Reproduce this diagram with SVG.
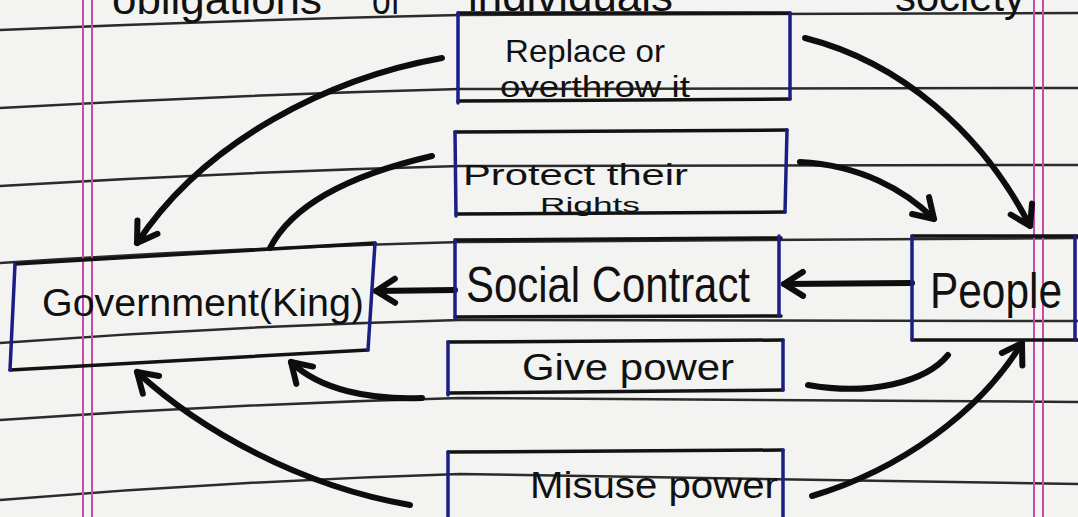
<svg xmlns="http://www.w3.org/2000/svg" width="1078" height="517" viewBox="0 0 1078 517">
  <style>
    .paper { fill: #f3f3f2; }
    .rule { fill: none; stroke: #2b2b2b; stroke-width: 2.5; }
    .margin { stroke: #c94aa8; stroke-width: 2; }
    .edge { fill: none; stroke: #121212; stroke-width: 3.5; stroke-linecap: round; }
    .side { fill: none; stroke: #1a1f86; stroke-width: 3.5; stroke-linecap: round; }
    .ink { font-family: "Liberation Sans", "DejaVu Sans", sans-serif; fill: #111; }
    .conn { fill: none; stroke: #0d0d0d; stroke-width: 6; stroke-linecap: round; }
  </style>
  <defs>
    <marker id="head" viewBox="-24 -16 28 32" markerUnits="userSpaceOnUse" markerWidth="28" markerHeight="32" refX="0" refY="0" orient="auto">
      <path d="M-19,-12 L0,0 L-19,12" fill="none" stroke="#0d0d0d" stroke-width="6" stroke-linecap="round" stroke-linejoin="round"/>
    </marker>
  </defs>

  <!-- notebook page -->
  <rect class="paper" x="0" y="0" width="1078" height="517"/>
  <g id="ruling">
    <path class="rule" d="M0,30 Q230,20 460,15 L1078,13"/>
    <path class="rule" d="M0,108 Q230,95 460,89 L1078,88"/>
    <path class="rule" d="M0,186 Q230,172 460,166 L1078,165"/>
    <path class="rule" d="M0,263 Q230,248 460,242 L1078,238"/>
    <path class="rule" d="M0,343 Q230,326 460,320 L1078,321"/>
    <path class="rule" d="M0,420 Q230,404 460,398 L1078,402"/>
    <path class="rule" d="M0,500 Q230,481 460,474 L1078,484"/>
    <line class="margin" x1="83" y1="0" x2="83" y2="517"/>
    <line class="margin" x1="92" y1="0" x2="92" y2="517"/>
    <line class="margin" x1="1034" y1="0" x2="1034" y2="517"/>
    <line class="margin" x1="1043" y1="0" x2="1043" y2="517"/>
  </g>

  <!-- heading line, cut by the top of the page -->
  <g id="heading" class="ink" font-size="42">
    <text x="112" y="14" textLength="210" lengthAdjust="spacingAndGlyphs">obligations</text>
    <text x="372" y="14" textLength="28" lengthAdjust="spacingAndGlyphs">of</text>
    <text x="468" y="11" textLength="205" lengthAdjust="spacingAndGlyphs">individuals</text>
    <text x="895" y="11" textLength="130" lengthAdjust="spacingAndGlyphs">society</text>
  </g>

  <!-- connectors -->
  <g id="connectors">
    <path class="conn" d="M442,58 C330,78 205,140 137,243" marker-end="url(#head)"/>
    <path class="conn" d="M432,156 C350,175 292,205 270,248"/>
    <path class="conn" d="M455,290 L376,291" marker-end="url(#head)"/>
    <path class="conn" d="M912,283 L784,284" marker-end="url(#head)"/>
    <path class="conn" d="M805,38 C900,62 982,132 1030,226" marker-end="url(#head)"/>
    <path class="conn" d="M800,162 C860,165 905,190 934,219" marker-end="url(#head)"/>
    <path class="conn" d="M422,398 C370,400 320,390 291,362" marker-end="url(#head)"/>
    <path class="conn" d="M808,385 C870,396 926,382 948,355"/>
    <path class="conn" d="M410,505 C300,486 200,430 137,372" marker-end="url(#head)"/>
    <path class="conn" d="M812,496 C900,470 980,412 1022,343" marker-end="url(#head)"/>
  </g>

  <g id="replace">
    <path class="edge" d="M458,13 L790,13 M458,101 L790,99"/>
    <path class="side" d="M458,13 L458,103 M790,13 L790,99"/>
    <text class="ink" x="505" y="62" font-size="32" textLength="160" lengthAdjust="spacingAndGlyphs">Replace or</text>
    <text class="ink" x="500" y="97" font-size="29" textLength="190" lengthAdjust="spacingAndGlyphs">overthrow it</text>
  </g>

  <g id="protect">
    <path class="edge" d="M455,132 L787,130 M456,214 L785,212"/>
    <path class="side" d="M455,132 L456,216 M787,130 L785,212"/>
    <text class="ink" x="463" y="185" font-size="30" textLength="225" lengthAdjust="spacingAndGlyphs">Protect their</text>
    <text class="ink" x="540" y="212" font-size="20" textLength="100" lengthAdjust="spacingAndGlyphs">Rights</text>
  </g>

  <g id="social-contract">
    <path class="edge" d="M455,240 L781,238 M455,317 L781,316"/>
    <path class="side" d="M455,240 L455,318"/>
    <path class="side" d="M779,236 L779,316" stroke-width="6"/>
    <text class="ink" x="466" y="302" font-size="50" textLength="284" lengthAdjust="spacingAndGlyphs">Social Contract</text>
  </g>

  <g id="give-power">
    <path class="edge" d="M448,342 L783,340 M448,393 L783,390"/>
    <path class="side" d="M448,342 L448,395 M783,340 L783,390"/>
    <text class="ink" x="522" y="380" font-size="36" textLength="212" lengthAdjust="spacingAndGlyphs">Give power</text>
  </g>

  <g id="misuse-power">
    <path class="edge" d="M448,452 L783,450"/>
    <path class="side" d="M448,452 L448,517 M783,450 L783,517"/>
    <text class="ink" x="530" y="498" font-size="36" textLength="248" lengthAdjust="spacingAndGlyphs">Misuse power</text>
  </g>

  <g id="government">
    <path class="edge" d="M15,264 L375,243 M10,370 L368,350"/>
    <path class="side" d="M15,264 L10,370 M375,243 L368,350"/>
    <text class="ink" x="42" y="316" font-size="38" textLength="322" lengthAdjust="spacingAndGlyphs">Government(King)</text>
  </g>

  <g id="people">
    <path class="edge" d="M912,236 L1078,236 M912,340 L1078,340"/>
    <path class="side" d="M912,236 L912,340 M1075,236 L1075,340"/>
    <text class="ink" x="930" y="308" font-size="50" textLength="132" lengthAdjust="spacingAndGlyphs">People</text>
  </g>
</svg>
